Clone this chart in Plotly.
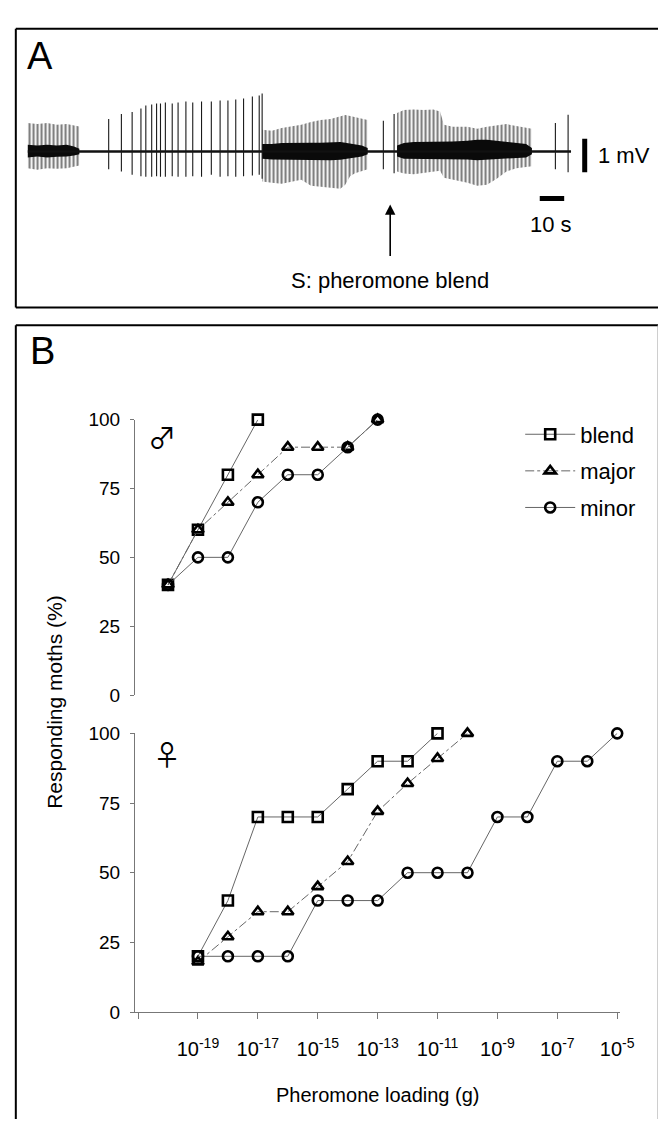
import plotly.graph_objects as go

W, H = 666, 1122
def fx(p): return p / W
def fy(p): return 1 - p / H

FONT = "Liberation Sans, Arial, sans-serif"

# ---------------- Panel B data ----------------
male_dose = [1e-20, 1e-19, 1e-18, 1e-17, 1e-16, 1e-15, 1e-14, 1e-13]
male_blend = [40, 60, 80, 100]
male_major = [40, 60, 70, 80, 90, 90, 90, 100]
male_minor = [40, 50, 50, 70, 80, 80, 90, 100]

female_dose = [1e-19, 1e-18, 1e-17, 1e-16, 1e-15, 1e-14, 1e-13, 1e-12,
               1e-11, 1e-10, 1e-9, 1e-8, 1e-7, 1e-6, 1e-5]
female_blend = [20, 40, 70, 70, 70, 80, 90, 90, 100]
female_major = [18, 27, 36, 36, 45, 54, 72, 82, 91, 100]
female_minor = [20, 20, 20, 20, 40, 40, 40, 50, 50, 50, 70, 70, 90, 90, 100]

x_tickvals = [1e-21, 1e-19, 1e-17, 1e-15, 1e-13, 1e-11, 1e-9, 1e-7, 1e-5]
x_exponents = ["", "-19", "-17", "-15", "-13", "-11", "-9", "-7", "-5"]
x_ticktext = [("10<sup>%s</sup>" % e) if e else "" for e in x_exponents]
y_ticks = [0, 25, 50, 75, 100]

# ---------------- Panel A data (time in s, voltage in mV) ----------------
trace_end_s = 222.4
spike_t = [33.2, 38.4, 42.8, 46.4, 48.4, 50.8, 52.8, 54.4, 56.4, 59.2, 61.6, 64.8,
           67.6, 71.2, 75.2, 78.8, 82.0, 85.2, 88.4, 92.0, 94.8, 96.0,
           145.6, 150.0, 216.0, 221.2]
spike_top = [0.97, 1.12, 1.18, 1.29, 1.38, 1.41, 1.44, 1.44, 1.47, 1.44, 1.47, 1.5,
             1.47, 1.5, 1.5, 1.53, 1.53, 1.56, 1.59, 1.65, 1.68, 1.74,
             0.92, 1.12, 0.85, 1.1]
spike_bot = [-0.53, -0.6, -0.7, -0.74, -0.76, -0.76, -0.74, -0.76, -0.76, -0.74, -0.76, -0.76,
             -0.74, -0.76, -0.7, -0.76, -0.74, -0.76, -0.74, -0.72, -0.7, -0.82,
             -0.53, -0.65, -0.53, -0.62]

burst1_t = [0, 4, 8, 12, 16, 19, 21.2]
burst1_top = [0.85, 0.82, 0.85, 0.8, 0.82, 0.78, 0.75]
burst1_bot = [-0.5, -0.55, -0.5, -0.52, -0.5, -0.45, -0.42]
burst1_core_top = [0.2, 0.18, 0.2, 0.18, 0.2, 0.15, 0.08]
burst1_core_bot = [-0.18, -0.15, -0.18, -0.16, -0.15, -0.12, -0.08]

burst2_t = [96, 100, 104, 108, 112, 116, 120, 124, 128, 130, 132, 134, 136.8, 139.2]
burst2_top = [0.65, 0.62, 0.7, 0.74, 0.8, 0.88, 0.94, 0.97, 1.06, 1.09, 1.06, 1.03, 0.97, 0.94]
burst2_bot = [-0.9, -0.94, -0.97, -0.9, -0.85, -1.03, -1.06, -1.09, -1.12, -1.0, -0.74, -0.65, -0.59, -0.53]
burst2_core_top = [0.22, 0.22, 0.25, 0.26, 0.26, 0.26, 0.26, 0.28, 0.28, 0.26, 0.24, 0.22, 0.18, 0.1]
burst2_core_bot = [-0.22, -0.24, -0.26, -0.26, -0.26, -0.25, -0.26, -0.26, -0.25, -0.22, -0.22, -0.18, -0.15, -0.08]

burst3_t = [151.2, 154, 158, 162, 166, 168.8, 170.4, 174, 180, 184, 188, 192, 196, 200, 204, 206.4]
burst3_top = [1.15, 1.24, 1.26, 1.24, 1.26, 1.2, 0.8, 0.74, 0.74, 0.68, 0.74, 0.79, 0.82, 0.76, 0.7, 0.68]
burst3_bot = [-0.6, -0.66, -0.68, -0.65, -0.6, -0.58, -0.79, -0.85, -0.94, -1.03, -1.0, -0.82, -0.6, -0.5, -0.46, -0.44]
burst3_core_top = [0.18, 0.25, 0.28, 0.28, 0.28, 0.28, 0.3, 0.3, 0.32, 0.35, 0.35, 0.32, 0.3, 0.26, 0.22, 0.1]
burst3_core_bot = [-0.15, -0.22, -0.22, -0.22, -0.22, -0.22, -0.22, -0.24, -0.24, -0.26, -0.26, -0.24, -0.22, -0.2, -0.18, -0.08]

scale_mv = 1.0
scale_s = 10.0
stim_label = "S: pheromone blend"

fig = go.Figure()

# ---------------- Panel A traces ----------------
AX = dict(xaxis="x3", yaxis="y3", showlegend=False, hoverinfo="skip")
bursts = [(burst1_t, burst1_top, burst1_bot, burst1_core_top, burst1_core_bot),
          (burst2_t, burst2_top, burst2_bot, burst2_core_top, burst2_core_bot),
          (burst3_t, burst3_top, burst3_bot, burst3_core_top, burst3_core_bot)]
for t, top, bot, ctop, cbot in bursts:
    fig.add_trace(go.Scatter(x=t + t[::-1], y=top + bot[::-1], mode="lines",
                             fill="toself", fillcolor="rgba(0,0,0,0)",
                             fillpattern=dict(shape="|", size=4, solidity=0.55,
                                              fgcolor="#000000", bgcolor="rgba(0,0,0,0)"),
                             line=dict(width=0), **AX))
    fig.add_trace(go.Scatter(x=t + t[::-1], y=ctop + cbot[::-1], mode="lines",
                             fill="toself", fillcolor="#0a0a0a",
                             line=dict(width=0), **AX))
fig.add_trace(go.Scatter(x=[0, trace_end_s], y=[0, 0], mode="lines",
                         line=dict(color="#111", width=2.4), **AX))
sx, sy = [], []
for t, a, b in zip(spike_t, spike_top, spike_bot):
    sx += [t, t, None]
    sy += [b, a, None]
fig.add_trace(go.Scatter(x=sx, y=sy, mode="lines", line=dict(color="#1a1a1a", width=1.1), **AX))
# scale bars
bar_t = trace_end_s + 5.6
fig.add_trace(go.Scatter(x=[bar_t, bar_t], y=[0.38, 0.38 - scale_mv], mode="lines",
                         line=dict(color="black", width=5), **AX))
fig.add_trace(go.Scatter(x=[209.6, 209.6 + scale_s], y=[-1.41, -1.41], mode="lines",
                         line=dict(color="black", width=5), **AX))

# ---------------- Panel B traces ----------------
LINE = "#666666"
series = [("blend", "square-open", "solid"),
          ("major", "triangle-up-open", "dashdot"),
          ("minor", "circle-open", "solid")]
male_vals = {"blend": male_blend, "major": male_major, "minor": male_minor}
female_vals = {"blend": female_blend, "major": female_major, "minor": female_minor}
for name, sym, dash in series:
    mk = dict(symbol=sym, size=10, color="black", line=dict(width=2.6, color="black"))
    mv = male_vals[name]
    fig.add_trace(go.Scatter(x=male_dose[:len(mv)], y=mv, name=name, mode="lines+markers",
                             marker=mk, line=dict(color=LINE, width=1, dash=dash),
                             xaxis="x2", yaxis="y2", cliponaxis=False, legendgroup=name))
    fv = female_vals[name]
    fig.add_trace(go.Scatter(x=female_dose[:len(fv)], y=fv, name=name, mode="lines+markers",
                             marker=mk, line=dict(color=LINE, width=1, dash=dash),
                             xaxis="x", yaxis="y", cliponaxis=False, showlegend=False,
                             legendgroup=name))

xdom = [fx(130), fx(626.3)]
xr = [-21.1, -4.9]
yax_common = dict(range=[0, 100], tickvals=y_ticks, ticks="outside", ticklen=4,
                  tickcolor="#777", showline=True, linecolor="#777", linewidth=1.2,
                  showgrid=False, zeroline=False, tickfont=dict(size=19, color="black", family=FONT),
                  ticklabelstandoff=6, fixedrange=True)

fig.update_layout(
    width=W, height=H, autosize=False,
    margin=dict(l=0, r=0, t=0, b=0),
    paper_bgcolor="white", plot_bgcolor="rgba(0,0,0,0)",
    font=dict(family=FONT, color="black"),
    xaxis=dict(domain=xdom, anchor="y", type="log", range=xr, tickvals=x_tickvals,
               ticktext=x_ticktext, ticks="outside", ticklen=6, tickcolor="#777",
               showline=True, linecolor="#777", linewidth=1.2, showgrid=False,
               zeroline=False, tickfont=dict(size=20, color="black", family=FONT),
               ticklabelstandoff=13),
    yaxis=dict(domain=[fy(1013), fy(729)], anchor="x", **yax_common),
    xaxis2=dict(domain=xdom, anchor="y2", type="log", range=xr, visible=False),
    yaxis2=dict(domain=[fy(690), fy(409.3)], anchor="x2", **yax_common),
    xaxis3=dict(domain=[fx(20), 1], anchor="y3", range=[0, 258.4], visible=False),
    yaxis3=dict(domain=[fy(187), fy(68)], anchor="x3", range=[-1.5, 2.0], visible=False),
    legend=dict(x=fx(524), y=fy(403), xanchor="left", yanchor="top",
                font=dict(size=22, family=FONT), bgcolor="rgba(0,0,0,0)",
                itemwidth=50, tracegroupgap=5),
    showlegend=True,
)

SYM = "Noto Sans CJK JP, DejaVu Sans"
ann = [
    dict(text="A", x=fx(17), y=fy(39), font=dict(size=38)),
    dict(text="B", x=fx(20), y=fy(339), font=dict(size=38)),
    dict(text="♂", x=fx(141), y=fy(427), font=dict(size=28, family=SYM)),
    dict(text="♀", x=fx(146), y=fy(750), font=dict(size=28, family=SYM)),
    dict(text="1 mV", x=fx(602), y=fy(140), font=dict(size=22)),
    dict(text="10 s", x=fx(556), y=fy(210), font=dict(size=22), xanchor="center"),
    dict(text=stim_label, x=fx(391), y=fy(267), font=dict(size=22), xanchor="center"),
    dict(text="Responding moths (%)", x=fx(48), y=fy(697), textangle=-90,
         font=dict(size=21), xanchor="center"),
    dict(text="Pheromone loading (g)", x=fx(378), y=fy(1098), font=dict(size=20),
         xanchor="center"),
]
for a in ann:
    a.setdefault("xanchor", "left")
    fig.add_annotation(xref="paper", yref="paper", showarrow=False, yanchor="middle", **a)

fig.add_annotation(xref="paper", yref="paper", x=fx(391), y=fy(190), text="",
                   showarrow=True, ax=0, ay=53, arrowhead=2, arrowsize=1.3,
                   arrowwidth=1.6, arrowcolor="black", standoff=0)

# panel frames
def line(x0, y0, x1, y1, w=2, color="black"):
    fig.add_shape(type="line", xref="paper", yref="paper", x0=fx(x0), y0=fy(y0),
                  x1=fx(x1), y1=fy(y1), line=dict(color=color, width=w))
line(8, 11, 666, 11)
line(8, 11, 8, 295)
line(8, 295, 666, 295)
line(8, 313, 666, 313)
line(8, 313, 8, 1122)
line(665, 313, 665, 1122, w=1, color="#999")

fig.write_html("out.html")
